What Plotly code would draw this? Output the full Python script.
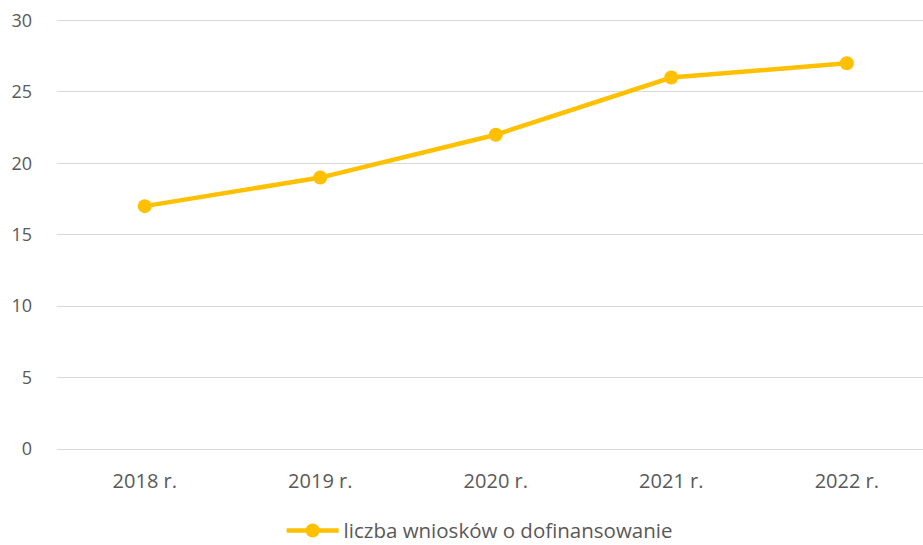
import plotly.graph_objects as go

categories = ["2018 r.", "2019 r.", "2020 r.", "2021 r.", "2022 r."]
values = [17, 19, 22, 26, 27]
series_name = "liczba wniosków o dofinansowanie"
y_ticks = [0, 5, 10, 15, 20, 25, 30]

fig = go.Figure()
fig.add_trace(go.Scatter(
    x=categories, y=values, name=series_name, mode="lines+markers",
    line=dict(color="#FFC000", width=4.5),
    marker=dict(color="#FFC000", size=14),
))

font_color = "#595959"
fig.update_layout(
    width=923, height=545,
    margin=dict(l=57, r=0, t=19, b=96),
    paper_bgcolor="white", plot_bgcolor="white",
    font=dict(family="'Open Sans', Lato, sans-serif", color=font_color, size=18),
    showlegend=True,
    legend=dict(orientation="h", x=0.488, xanchor="center",
                yref="container", y=0.063, yanchor="top",
                itemwidth=52, font=dict(size=20.5, color=font_color)),
    xaxis=dict(type="category", range=[-0.5, 4.434], showgrid=False,
               showline=False, zeroline=False, ticks="",
               ticklabelstandoff=18, tickfont=dict(size=20)),
    yaxis=dict(range=[0, 30.1], tickvals=y_ticks, showgrid=True,
               gridcolor="#D9D9D9", gridwidth=1.3, zeroline=True,
               zerolinecolor="#D9D9D9", zerolinewidth=1.3, showline=False,
               ticks="", ticklabelstandoff=24, ticklabeloverflow="allow",
               tickfont=dict(size=18)),
)

fig.write_html("out.html", config={"displayModeBar": False},
               post_script="document.body.style.margin='0';document.body.style.overflow='hidden';")
